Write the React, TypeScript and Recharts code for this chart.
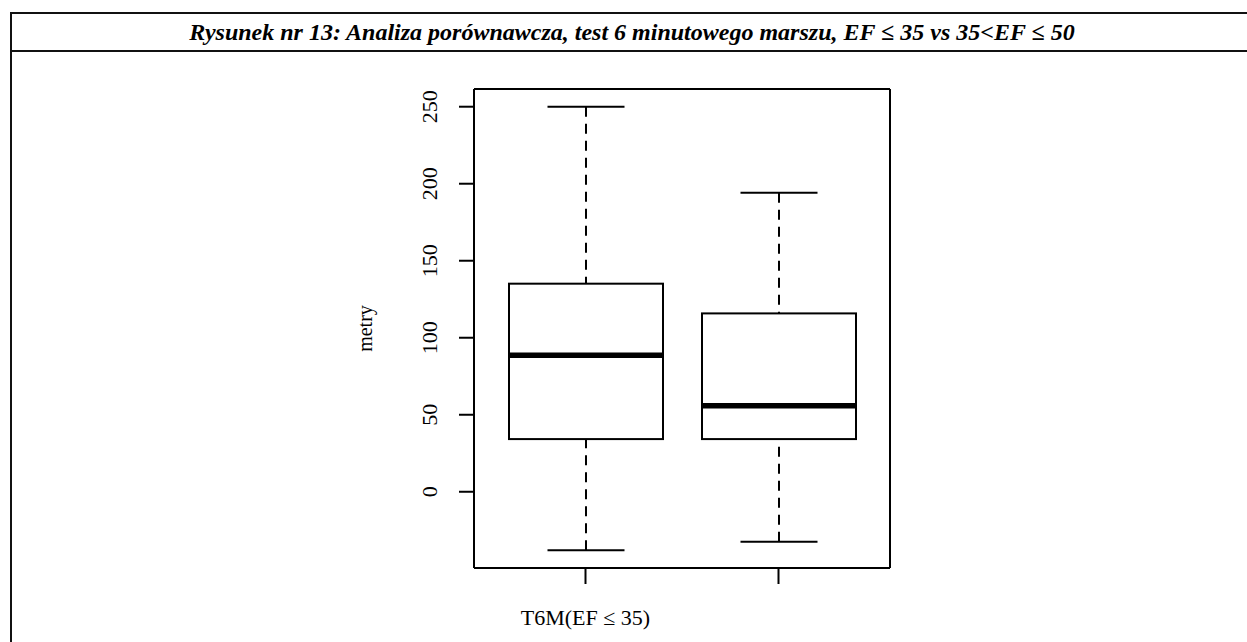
import React from 'react';
import { ComposedChart, Bar, Line, XAxis, YAxis } from 'recharts';

const categories = ['T6M(EF ≤ 35)', 'T6M(35<EF ≤ 50)'];
const whiskerLow = [-38, -32.5];
const quartile1 = [34.2, 34.2];
const medians = [88.6, 55.8];
const quartile3 = [135.1, 115.8];
const whiskerHigh = [250, 194.2];
const yTicks = [0, 50, 100, 150, 200, 250];
const yDomain = [-49.5, 261.5];
const titleText = 'Rysunek nr 13: Analiza porównawcza, test 6 minutowego marszu, EF ≤ 35 vs 35<EF ≤ 50';
const yLabel = 'metry';

const data = categories.map((name, i) => ({
  name,
  range: [whiskerLow[i], whiskerHigh[i]],
  low: whiskerLow[i],
  q1: quartile1[i],
  median: medians[i],
  q3: quartile3[i],
  high: whiskerHigh[i],
}));

const FONT = "'Liberation Serif', 'Times New Roman', serif";
const INK = '#000';

function BoxShape(props: any) {
  const { x, y, width, height, payload } = props;
  if (!payload) return null;
  const top = Math.min(y, y + height);
  const h = Math.abs(height);
  const lo = payload.low;
  const hi = payload.high;
  const py = (v: number) => top + ((hi - v) / (hi - lo)) * h;
  const cx = x + width / 2;
  const capHalf = width / 4;
  const yQ1 = py(payload.q1);
  const yQ3 = py(payload.q3);
  const yMed = py(payload.median);
  const yHi = py(hi);
  const yLo = py(lo);
  return (
    <g>
      <line x1={cx} x2={cx} y1={yHi} y2={yQ3} stroke={INK} strokeWidth={2} strokeDasharray="10 7" />
      <line x1={cx} x2={cx} y1={yLo} y2={yQ1} stroke={INK} strokeWidth={2} strokeDasharray="10 7" />
      <line x1={cx - capHalf} x2={cx + capHalf} y1={yHi} y2={yHi} stroke={INK} strokeWidth={2} />
      <line x1={cx - capHalf} x2={cx + capHalf} y1={yLo} y2={yLo} stroke={INK} strokeWidth={2} />
      <rect x={x} y={yQ3} width={width} height={yQ1 - yQ3} fill="#fff" stroke={INK} strokeWidth={2} />
      <line x1={x} x2={x + width} y1={yMed} y2={yMed} stroke={INK} strokeWidth={5.5} />
    </g>
  );
}

function YTick(props: any) {
  const { x, y, payload } = props;
  return (
    <text
      x={x}
      y={y}
      transform={`rotate(-90, ${x}, ${y})`}
      textAnchor="middle"
      fontFamily={FONT}
      fontSize={22}
      fill={INK}
    >
      {payload.value}
    </text>
  );
}

function XTick(props: any) {
  const { x, y, payload, index } = props;
  if (index !== 0) return null;
  return (
    <text x={x} y={y} textAnchor="middle" fontFamily={FONT} fontSize={22} fill={INK}>
      {payload.value}
    </text>
  );
}

function YLabel(props: any) {
  const vb = props.viewBox || {};
  const cx = vb.x + vb.width - 102;
  const cy = vb.y + vb.height / 2;
  return (
    <text
      x={cx}
      y={cy}
      transform={`rotate(-90, ${cx}, ${cy})`}
      textAnchor="middle"
      fontFamily={FONT}
      fontSize={20}
      fill={INK}
    >
      {yLabel}
    </text>
  );
}

export default function App() {
  return (
    <div
      style={{
        position: 'absolute',
        left: 0,
        top: 0,
        width: 1247,
        height: 642,
        overflow: 'hidden',
        background: '#fff',
      }}
    >
      <div
        style={{
          position: 'absolute',
          left: 10,
          top: 12,
          width: 1300,
          height: 700,
          border: '2px solid #111',
          boxSizing: 'border-box',
        }}
      />
      <div
        style={{
          position: 'absolute',
          left: 12,
          top: 14,
          width: 1240,
          height: 36,
          borderBottom: '2px solid #111',
          textAlign: 'center',
          fontFamily: FONT,
          fontWeight: 'bold',
          fontStyle: 'italic',
          fontSize: 24,
          lineHeight: '36px',
          color: '#000',
          whiteSpace: 'nowrap',
        }}
      >
        {titleText}
      </div>
      <div style={{ position: 'absolute', left: 0, top: 0 }}>
        <ComposedChart
          width={1247}
          height={642}
          data={data}
          margin={{ top: 88, right: 356, bottom: 14, left: 0 }}
        >
          <XAxis
            dataKey="name"
            type="category"
            padding={{ left: 15, right: 15 }}
            height={60}
            tickSize={16}
            tickMargin={41}
            tickLine={{ stroke: INK, strokeWidth: 2 }}
            axisLine={{ stroke: INK, strokeWidth: 2 }}
            tick={<XTick />}
            interval={0}
          />
          <XAxis
            xAxisId="top"
            dataKey="name"
            orientation="top"
            height={1}
            tick={false}
            tickLine={false}
            axisLine={{ stroke: INK, strokeWidth: 2 }}
          />
          <YAxis
            type="number"
            domain={yDomain}
            ticks={yTicks}
            width={474}
            tickSize={15}
            tickMargin={22}
            tickLine={{ stroke: INK, strokeWidth: 2 }}
            axisLine={{ stroke: INK, strokeWidth: 2 }}
            tick={<YTick />}
            interval={0}
            allowDataOverflow
            label={{ content: <YLabel /> }}
          />
          <YAxis
            yAxisId="right"
            orientation="right"
            width={1}
            tick={false}
            tickLine={false}
            axisLine={{ stroke: INK, strokeWidth: 2 }}
          />
          <Bar dataKey="range" barSize={154} shape={<BoxShape />} isAnimationActive={false} />
          <Line
            xAxisId="top"
            yAxisId="right"
            dataKey="high"
            stroke="none"
            dot={false}
            activeDot={false}
            legendType="none"
            isAnimationActive={false}
          />
        </ComposedChart>
      </div>
    </div>
  );
}
